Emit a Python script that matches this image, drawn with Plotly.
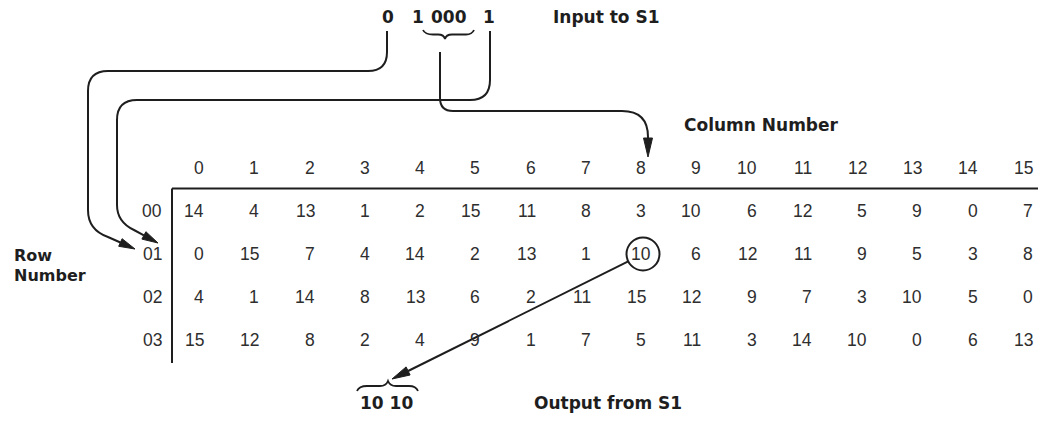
import math
import plotly.graph_objects as go

# ---------------- data ----------------
col_labels = ["0", "1", "2", "3", "4", "5", "6", "7", "8", "9", "10", "11", "12", "13", "14", "15"]
row_labels = ["00", "01", "02", "03"]
sbox_s1 = [
    [14, 4, 13, 1, 2, 15, 11, 8, 3, 10, 6, 12, 5, 9, 0, 7],
    [0, 15, 7, 4, 14, 2, 13, 1, 10, 6, 12, 11, 9, 5, 3, 8],
    [4, 1, 14, 8, 13, 6, 2, 11, 15, 12, 9, 7, 3, 10, 5, 0],
    [15, 12, 8, 2, 4, 9, 1, 7, 5, 11, 3, 14, 10, 0, 6, 13],
]
input_bits = ["0", "1", "000", "1"]
output_bits = "10 10"
selected_row = 1
selected_col = 8
label_input = "Input to S1"
label_output = "Output from S1"
label_column = "Column Number"
label_row = ["Row", "Number"]

# ---------------- layout geometry ----------------
W, H = 1048, 421
X0, DX = 205, 55.25       # right edge of column text
Y_HEAD = 168
Y0, DY = 211, 43
INK = "#1e1e1e"
DIGIT = "#2e2e2e"
DIGIT_FONT = dict(family="Liberation Sans, Arial, sans-serif", size=17.5, color=DIGIT)
LABEL_FONT = dict(family="DejaVu Sans, sans-serif", size=17, color=INK)


def cx(c):
    return X0 + DX * c


def ry(r):
    return Y0 + DY * r


annotations = []
shapes = []


def txt(x, y, s, font, xanchor="center"):
    annotations.append(dict(x=x, y=y, xref="x", yref="y", text=s, showarrow=False,
                            xanchor=xanchor, yanchor="middle", font=font, borderpad=0))


# column headers
for c, lab in enumerate(col_labels):
    txt(cx(c), Y_HEAD, lab, DIGIT_FONT, "right")
# row labels
for r, lab in enumerate(row_labels):
    txt(163, ry(r), lab, DIGIT_FONT, "right")
# cells (the circled value sits a little to the right, inside its ring)
for r, row in enumerate(sbox_s1):
    for c, v in enumerate(row):
        shift = 5 if (r == selected_row and c == selected_col) else 0
        txt(cx(c) + shift, ry(r), str(v), DIGIT_FONT, "right")

# table rules
shapes.append(dict(type="line", x0=172, x1=1038, y0=188.5, y1=188.5, xref="x", yref="y",
                   line=dict(color=INK, width=2)))
shapes.append(dict(type="line", x0=172, x1=172, y0=188.5, y1=363, xref="x", yref="y",
                   line=dict(color=INK, width=2)))

# input bits
bit_x = [388, 418, 449, 489]
for b, x in zip(input_bits, bit_x):
    txt(x, 17, "<b>%s</b>" % b, dict(LABEL_FONT, size=17))
txt(552, 17, "<b>%s</b>" % label_input, LABEL_FONT, "left")
txt(683, 125, "<b>%s</b>" % label_column, LABEL_FONT, "left")
txt(13, 255, "<b>%s</b>" % label_row[0], dict(LABEL_FONT, size=16), "left")
txt(13, 275, "<b>%s</b>" % label_row[1], dict(LABEL_FONT, size=16), "left")
txt(386, 403, "<b>%s</b>" % output_bits, LABEL_FONT)
txt(533, 403, "<b>%s</b>" % label_output, LABEL_FONT, "left")


def path(d, width=2):
    shapes.append(dict(type="path", path=d, xref="x", yref="y",
                       line=dict(color=INK, width=width)))


def head(frm, tip, L=16, w=4.2):
    dx, dy = tip[0] - frm[0], tip[1] - frm[1]
    n = math.hypot(dx, dy)
    ux, uy = dx / n, dy / n
    bx, by = tip[0] - ux * L, tip[1] - uy * L
    px, py = -uy * w, ux * w
    d = "M %.1f %.1f L %.1f %.1f L %.1f %.1f Z" % (tip[0], tip[1], bx + px, by + py, bx - px, by - py)
    shapes.append(dict(type="path", path=d, xref="x", yref="y", fillcolor=INK,
                       line=dict(color=INK, width=1)))
    return bx, by


# line A : first bit -> row selection
ta, fa = (135, 249), (108, 237)
ba = head(fa, ta)
path("M 387 31 L 387 52 Q 387 71 368 71 L 108 71 Q 88 71 88 91 L 88 210 Q 88 230 108 237 L %.1f %.1f" % ba)

# line B : last bit -> row selection
tb, fb = (158, 243), (134, 230)
bb = head(fb, tb)
path("M 490 31 L 490 80 Q 490 100 470 100 L 137 100 Q 117 100 117 120 L 117 205 Q 117 222 134 230 L %.1f %.1f" % bb)

# line C : middle bits -> column selection
col_x = cx(selected_col)
tc, fc = (col_x + 1, 157), (col_x + 1, 137)
head(fc, tc, L=19, w=4.5)
path("M 440 52 L 440 98 Q 440 111 453 111 L 622 111 Q %.1f 111 %.1f 137 L %.1f 140" % (col_x + 1, col_x + 1, col_x + 1))

# circle around selected value
ccx, ccy, rad = cx(selected_col) - 4, ry(selected_row), 16.5
shapes.append(dict(type="circle", x0=ccx - rad, x1=ccx + rad, y0=ccy - rad, y1=ccy + rad,
                   xref="x", yref="y", line=dict(color=INK, width=2)))

# output arrow
to = (392, 379)
dx, dy = to[0] - ccx, to[1] - ccy
n = math.hypot(dx, dy)
sx, sy = ccx + dx / n * rad, ccy + dy / n * rad
bo = head((sx, sy), to, L=18, w=4.5)
path("M %.1f %.1f L %.1f %.1f" % (sx, sy, bo[0], bo[1]))

# braces
path("M 423 30 Q 425 34.5 433 34.5 L 438 34.5 Q 444 34.5 445 39 Q 446 34.5 452 34.5 L 466 34.5 Q 472 34.5 474 30", 1.8)
path("M 357 391 Q 359 386 367 386 L 380 386 Q 386 386 388 381 Q 390 386 396 386 L 409 386 Q 416 386 418 391", 1.8)

fig = go.Figure()
fig.add_trace(go.Scatter(x=[0, W], y=[0, H], mode="markers", marker=dict(opacity=0), hoverinfo="skip"))
fig.update_layout(
    width=W, height=H, autosize=False,
    margin=dict(l=0, r=0, t=0, b=0),
    paper_bgcolor="white", plot_bgcolor="white",
    showlegend=False,
    xaxis=dict(range=[0, W], visible=False, fixedrange=True),
    yaxis=dict(range=[H, 0], visible=False, fixedrange=True),
    annotations=annotations,
    shapes=shapes,
)
fig.write_html("out.html", config={"displayModeBar": False},
               post_script="document.body.style.margin='0px';document.body.style.overflow='hidden';")
